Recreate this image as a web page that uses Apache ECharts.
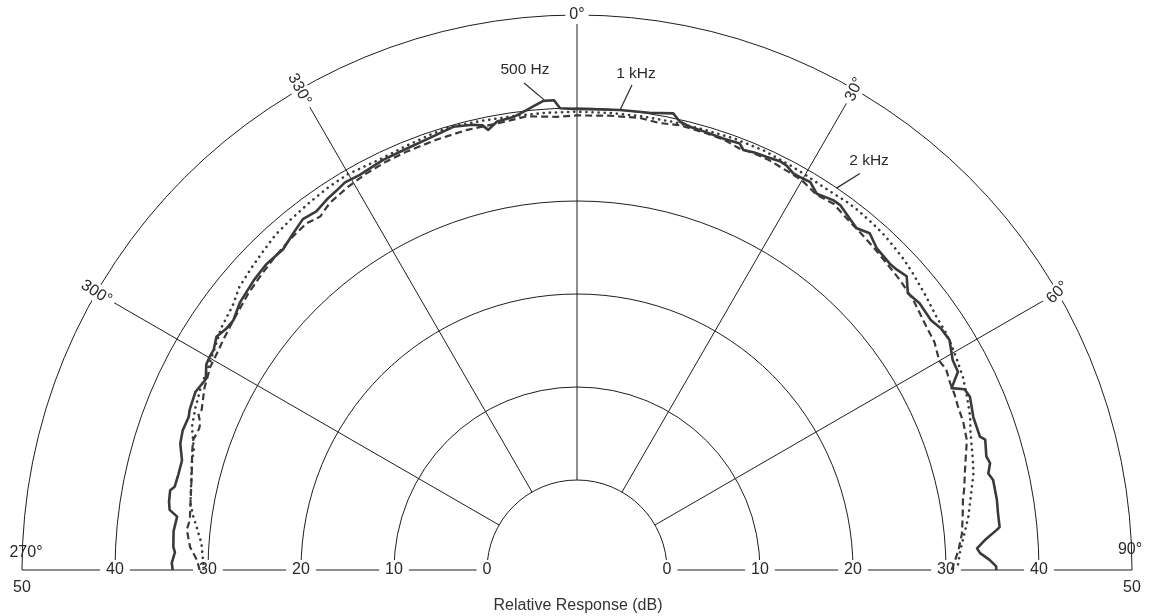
<!DOCTYPE html>
<html><head><meta charset="utf-8">
<script src="https://cdn.jsdelivr.net/npm/echarts@6/dist/echarts.min.js"></script>
<style>html,body{margin:0;padding:0;background:#fff}#c{width:1156px;height:616px}</style>
</head><body><div id="c"></div>
<script>
// ---------------- DATA ----------------
const radiusTicks = [0, 10, 20, 30, 40, 50];
const angleTicks = [-90, -60, -30, 0, 30, 60, 90];
const angleTickLabels = ['270°', '300°', '330°', '0°', '30°', '60°', '90°'];
const seriesNames = ['500 Hz', '1 kHz', '2 kHz'];
const axisTitle = 'Relative Response (dB)';

// 500 Hz (solid) : angle (deg, 0 = on axis, negative = 270..360 side) and level (dB)
const angles500 = [-90, -89, -87.5, -86.7, -84.5, -82.4, -81.6, -80.5, -78.9, -78.3, -76.5, -74.5, -72.3, -70.5, -68.5, -67.5, -65, -62.8, -61, -59.8, -58.8, -57.1, -55.5, -54, -51.5, -48.1, -45.5, -42.5, -40, -38, -36, -34, -32.5, -30.9, -28.8, -25.3, -21.9, -18.8, -15.6, -13.2, -12, -11.4, -10.1, -8, -6.2, -5.4, -4.1, -2.8, -2.1, -0.5, 1.6, 5.3, 9, 11.9, 12.9, 14.3, 16.5, 18.7, 20.9, 21.6, 23, 24.7, 26.4, 27.4, 28.6, 29.6, 31, 32.5, 34.7, 35.8, 38, 39.3, 41, 43, 45.6, 46.8, 48.3, 50.1, 52.1, 54.8, 56.5, 58.3, 60.8, 62.5, 64.1, 65, 66.2, 68.9, 71.7, 72.3, 74.5, 75.5, 76.8, 77.8, 80.5, 82.3, 84.2, 84.6, 85.8, 86.9, 87.6, 88.6, 89.5, 90];
const db500 = [33.8, 33.9, 33.6, 33.8, 33.9, 33.7, 34.6, 34.8, 34.9, 34.5, 34.4, 34.4, 35.1, 35.3, 35.2, 35.4, 35.6, 35.2, 35.9, 36.0, 36.0, 36.5, 36.1, 36.0, 36.6, 37.0, 37.2, 37.1, 37.7, 38.2, 38.0, 38.4, 38.6, 38.9, 38.8, 39.1, 39.2, 39.4, 39.8, 39.5, 39.2, 38.6, 39.3, 39.5, 40.1, 40.4, 40.9, 40.9, 40.0, 39.9, 39.9, 40.0, 40.1, 40.5, 39.8, 39.5, 39.4, 39.3, 39.4, 38.9, 39.1, 39.2, 39.4, 39.3, 38.9, 38.9, 39.0, 38.3, 38.7, 38.7, 38.1, 37.8, 38.3, 37.6, 37.4, 37.5, 37.8, 36.7, 37.0, 36.9, 37.3, 37.4, 36.6, 36.5, 35.1, 36.3, 36.5, 36.0, 35.96, 36.4, 36.0, 36.2, 35.75, 36.1, 36.1, 36.0, 36.0, 35.6, 34.3, 33.4, 33.7, 34.7, 35.4, 35.4];

// 1 kHz (dashed)
const angles1k = [-90, -88.5, -86.6, -84.1, -82.6, -80.2, -77.5, -75.5, -73, -71.3, -69.5, -68.7, -67.5, -66.9, -64, -61, -59, -57, -54, -50, -47, -44, -41, -38, -36, -34, -31, -28, -25, -22, -18, -14, -10, -6.3, -2.6, 0, 4, 7.9, 10.5, 13, 16.5, 19, 21, 23, 25, 28, 30, 32.5, 35, 38, 40, 43, 45, 48, 51.2, 53, 55.2, 57.5, 60, 61.5, 63.4, 65, 66.8, 69, 71.6, 74, 76, 78, 79.7, 82, 84.6, 86, 87, 88.5, 90];
const db1k = [30.9, 31.2, 32.0, 32.5, 32.3, 32.5, 32.8, 33.1, 33.6, 33.9, 33.7, 33.8, 34.4, 34.2, 34.9, 35.4, 35.5, 35.7, 36.0, 36.5, 36.8, 37.1, 37.4, 37.6, 37.3, 37.9, 38.3, 38.6, 38.8, 38.9, 39.0, 39.1, 39.1, 39.4, 39.1, 39.2, 39.3, 39.4, 39.2, 39.4, 39.3, 39.2, 38.9, 39.0, 39.0, 38.8, 38.7, 38.2, 38.4, 37.9, 37.7, 37.4, 37.2, 37.0, 36.7, 36.4, 36.1, 35.9, 35.3, 35.5, 35.2, 35.1, 34.9, 34.8, 34.5, 33.8, 33.3, 32.9, 32.5, 32.2, 31.9, 31.6, 31.4, 31.0, 30.6];

// 2 kHz (dotted)
const angles2k = [-90, -89, -86, -83.5, -82, -80.2, -77, -74.5, -72.6, -71, -69.6, -67, -64, -61, -58, -55.7, -52.5, -50, -47, -44.7, -42, -39, -36, -33, -30, -28.6, -25.3, -21.8, -18.7, -16, -12, -8, -4, 0, 4, 8, 12, 16, 20, 24, 28, 30, 32.4, 34, 36.2, 38, 40.5, 42.5, 44.4, 46.5, 48.6, 50.5, 52, 54.8, 57, 59, 61.2, 63.5, 65.6, 68.7, 70.5, 72.6, 74.5, 76.3, 79, 82.2, 84.5, 87, 90];
const db2k = [30.5, 30.5, 30.8, 31.5, 32.0, 32.5, 32.9, 33.3, 33.5, 34.0, 34.5, 34.9, 35.3, 35.6, 36.1, 36.6, 37.0, 37.7, 38.1, 38.4, 38.8, 39.0, 39.2, 39.4, 39.5, 39.4, 39.3, 39.5, 39.7, 39.9, 39.7, 39.6, 39.6, 39.6, 39.6, 39.6, 39.6, 39.6, 39.7, 39.7, 39.5, 39.4, 39.3, 39.3, 39.4, 39.4, 39.3, 39.2, 39.0, 38.8, 38.5, 38.2, 38.0, 37.6, 37.5, 37.3, 37.0, 36.7, 36.3, 35.7, 35.2, 34.8, 34.5, 34.2, 33.5, 32.8, 32.2, 31.6, 31.2];

// ---------------- LAYOUT / STYLE ----------------
const FONT = '"Liberation Sans", Arial, sans-serif';
const INK = '#2a2a2a';
const CURVE = '#3a3a3a';
const CENTER = [577, 570];
const RADII = [90, 555];

// angle-label placement (rotation in deg, ECharts: + = anticlockwise)
const angleLabelStyle = {
  '270°': { rotate: 0, offset: [4, -17], bg: false },
  '300°': { rotate: -32, offset: [0, 0], bg: true },
  '330°': { rotate: -62, offset: [0, 0], bg: true },
  '0°':   { rotate: 0, offset: [0, 0], bg: true },
  '30°':  { rotate: 65, offset: [0, 0], bg: true },
  '60°':  { rotate: 45, offset: [0, 0], bg: true },
  '90°':  { rotate: 0, offset: [-2, -20], bg: false }
};

// curve annotations: text anchor and leader line, in polar (dB, deg)
const annotations = [
  { text: seriesNames[0], at: [44.4, -5.94], from: [43.0, -6.2], to: [41.0, -4.0] },
  { text: seriesNames[1], at: [44.1, 6.77], from: [42.8, 6.47], to: [40.0, 5.34] },
  { text: seriesNames[2], at: [44.4, 35.5], from: [42.7, 35.5], to: [39.97, 34.2] }
];

function pairs(angles, values) { return angles.map((a, i) => [values[i], a]); }

const radiusLabel = {
  show: true, margin: 0, align: 'center', verticalAlign: 'middle',
  fontSize: 16, color: INK, fontFamily: FONT,
  formatter: v => (v === radiusTicks[radiusTicks.length - 1] ? '{b|' + v + '}' : '{a|' + v + '}'),
  rich: {
    a: { backgroundColor: '#fff', padding: [2, 6, 2, 6], fontSize: 16, color: INK, fontFamily: FONT },
    b: { padding: [36, 0, 0, 0], fontSize: 16, color: INK, fontFamily: FONT }
  }
};

const gridLine = { color: '#1e1e1e', width: 1 };
const hiddenItem = { color: 'rgba(0,0,0,0)', opacity: 1 };

const series = [
  { name: seriesNames[0], type: 'line', coordinateSystem: 'polar', polarIndex: 0, data: pairs(angles500, db500),
    showSymbol: false, symbol: 'none', z: 5,
    lineStyle: { color: CURVE, width: 2.6, join: 'round' } },
  { name: seriesNames[1], type: 'line', coordinateSystem: 'polar', polarIndex: 0, data: pairs(angles1k, db1k),
    showSymbol: false, symbol: 'none', z: 4,
    lineStyle: { color: CURVE, width: 2.2, type: [7, 4] } },
  { name: seriesNames[2], type: 'line', coordinateSystem: 'polar', polarIndex: 0, data: pairs(angles2k, db2k),
    showSymbol: false, symbol: 'none', z: 4,
    lineStyle: { color: CURVE, width: 2.6, type: [0.1, 6], cap: 'round' } },
  { name: 'angleLabels', type: 'scatter', coordinateSystem: 'polar', polarIndex: 0, z: 6,
    symbolSize: 1, itemStyle: hiddenItem, silent: true,
    label: { show: true, position: 'inside', fontSize: 16, color: INK, fontFamily: FONT, opacity: 1 },
    data: angleTicks.map((a, i) => {
      const s = angleLabelStyle[angleTickLabels[i]];
      return {
        value: [radiusTicks[radiusTicks.length - 1], a],
        label: {
          formatter: angleTickLabels[i], rotate: s.rotate, offset: s.offset,
          backgroundColor: s.bg ? '#fff' : 'transparent', padding: s.bg ? [1, 4, 1, 4] : 0
        }
      };
    }) },
  { name: 'annotText', type: 'scatter', coordinateSystem: 'polar', polarIndex: 0, z: 6,
    symbolSize: 1, itemStyle: hiddenItem, silent: true,
    label: { show: true, position: 'inside', fontSize: 15.5, color: INK, fontFamily: FONT, opacity: 1 },
    data: annotations.map(an => ({ value: an.at, label: { formatter: an.text } })) }
].concat(annotations.map((an, i) => ({
  name: 'leader' + i, type: 'line', coordinateSystem: 'polar', polarIndex: 0, z: 6, silent: true,
  data: [an.from, an.to], showSymbol: false, symbol: 'none',
  lineStyle: { color: INK, width: 1.2 }
})));

const option = {
  backgroundColor: '#fff',
  animation: false,
  title: { text: axisTitle, left: 'center', top: 593,
    textStyle: { fontSize: 16, fontWeight: 'normal', color: '#333', fontFamily: FONT } },
  polar: [
    { center: CENTER, radius: RADII },
    { center: CENTER, radius: RADII }
  ],
  angleAxis: [
    { polarIndex: 0, type: 'value', min: angleTicks[0], max: angleTicks[angleTicks.length - 1], interval: 30,
      startAngle: 180, endAngle: 0, clockwise: true,
      axisLine: { show: false }, axisTick: { show: false }, axisLabel: { show: false },
      splitLine: { show: true, lineStyle: gridLine } },
    { polarIndex: 1, type: 'value', min: 0, max: 180, startAngle: 0, endAngle: 180, clockwise: false,
      axisLine: { show: false }, axisTick: { show: false }, axisLabel: { show: false }, splitLine: { show: false } }
  ],
  radiusAxis: [
    { polarIndex: 0, type: 'value', min: radiusTicks[0], max: radiusTicks[radiusTicks.length - 1], interval: 10,
      axisLine: { show: false }, axisTick: { show: false }, axisLabel: radiusLabel,
      splitLine: { show: true, lineStyle: gridLine } },
    { polarIndex: 1, type: 'value', min: radiusTicks[0], max: radiusTicks[radiusTicks.length - 1], interval: 10,
      axisLine: { show: false }, axisTick: { show: false }, axisLabel: radiusLabel, splitLine: { show: false } }
  ],
  series: series
};

const chart = echarts.init(document.getElementById('c'));
chart.setOption(option);
</script>
</body></html>
